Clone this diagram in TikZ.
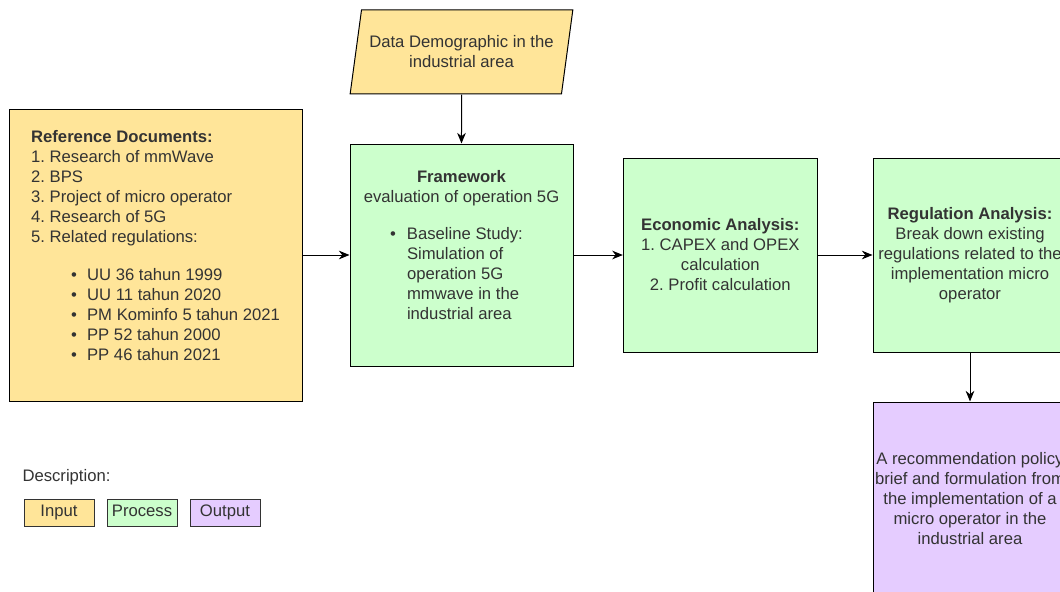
\documentclass[tikz,border=0pt]{standalone}
\usepackage{fontspec}
\setmainfont{Liberation Sans}
\usepackage{xcolor}
\usepackage{tikz}
\usetikzlibrary{arrows.meta}
\usetikzlibrary{shapes.geometric}
\usetikzlibrary{positioning}
\frenchspacing
\definecolor{inputfill}{HTML}{FFE599}
\definecolor{processfill}{HTML}{CCFFCC}
\definecolor{outputfill}{HTML}{E5CCFF}
\definecolor{textgray}{HTML}{333333}
\newcommand{\bulline}[3]{\makebox[#1][l]{\makebox[#2][l]{\textbullet}#3}}
\newcommand{\contline}[3]{\makebox[#1][l]{\hspace*{#2}#3}}
\tikzstyle{basebox} = [draw=black, line width=0.75pt, rectangle, text=textgray,
font=\fontsize{12.5pt}{15pt}\selectfont, inner sep=0pt, align=center]
\tikzstyle{inputbox} = [basebox, fill=inputfill]
\tikzstyle{processbox} = [basebox, fill=processfill]
\tikzstyle{outputbox} = [basebox, fill=outputfill]
\tikzstyle{databox} = [basebox, fill=inputfill, trapezium, trapezium left angle=72,
trapezium right angle=108, trapezium stretches=true]
\tikzstyle{legendbox} = [basebox, draw=black!80, minimum width=52.5pt, minimum height=20.25pt,
text height=9pt, text depth=2.5pt]
\tikzstyle{flow} = [draw=black, line width=0.75pt, -{Stealth[length=8pt, width=6.5pt]}]

\begin{document}
\begin{tikzpicture}[x=0.75pt, y=-0.75pt]
        \clip (0,0) rectangle (1060,592);
        \fill[white] (0,0) rectangle (1060,592);
        \node [processbox, minimum width=167.25pt, minimum height=166.5pt] (framework) at (461.5,255) {%
            \textbf{Framework}\\
            evaluation of operation 5G\\[12.75pt]
            \bulline{107.25pt}{12.75pt}{Baseline Study:}\\
            \contline{107.25pt}{12.75pt}{Simulation of}\\
            \contline{107.25pt}{12.75pt}{operation 5G}\\
            \contline{107.25pt}{12.75pt}{mmwave in the}\\
            \contline{107.25pt}{12.75pt}{industrial area}\\
            \mbox{}
        };
        \node [inputbox, minimum width=219.75pt, minimum height=219pt, align=left,
            left=35.25pt of framework] (refdocs) {%
            \textbf{Reference Documents:}\\
            1. Research of mmWave\\
            2. BPS\\
            3. Project of micro operator\\
            4. Research of 5G\\
            5. Related regulations:\\[13.5pt]
            \hspace*{30pt}\makebox[12pt][l]{\textbullet}UU 36 tahun 1999\\
            \hspace*{30pt}\makebox[12pt][l]{\textbullet}UU 11 tahun 2020\\
            \hspace*{30pt}\makebox[12pt][l]{\textbullet}PM Kominfo 5 tahun 2021\\
            \hspace*{30pt}\makebox[12pt][l]{\textbullet}PP 52 tahun 2000\\
            \hspace*{30pt}\makebox[12pt][l]{\textbullet}PP 46 tahun 2021\\
            \mbox{}
        };
        \node [databox, minimum width=167.25pt, minimum height=63pt, above=36.75pt of framework] (demography) {%
            Data Demographic in the\\industrial area};
        \node [processbox, minimum width=145.5pt, minimum height=145.5pt, right=37pt of framework] (economic) {%
            \textbf{Economic Analysis:}\\
            1. CAPEX and OPEX\\
            calculation\\
            2. Profit calculation
        };
        \node [processbox, minimum width=145.5pt, minimum height=145.5pt, right=41pt of economic] (regulation) {%
            \textbf{Regulation Analysis:}\\
            Break down existing\\
            regulations related to the\\
            implementation micro\\
            operator
        };
        \node [outputbox, minimum width=145.5pt, minimum height=145.5pt, below=36.75pt of regulation] (policy) {%
            A recommendation policy\\
            brief and formulation from\\
            the implementation of a\\
            micro operator in the\\
            industrial area
        };
        \draw [flow] (demography) -- (framework);
        \draw [flow] (refdocs) -- (framework);
        \draw [flow] (framework) -- (economic);
        \draw [flow] (economic) -- (regulation);
        \draw [flow] (regulation) -- (policy);
        \node [basebox, draw=none, anchor=west] (desc) at (22,477) {Description:};
        \node [legendbox, fill=inputfill] (leginput) at (59,512.5) {Input};
        \node [legendbox, fill=processfill, right=9pt of leginput] (legprocess) {Process};
        \node [legendbox, fill=outputfill, right=9pt of legprocess] (legoutput) {Output};
    \end{tikzpicture}
\end{document}
